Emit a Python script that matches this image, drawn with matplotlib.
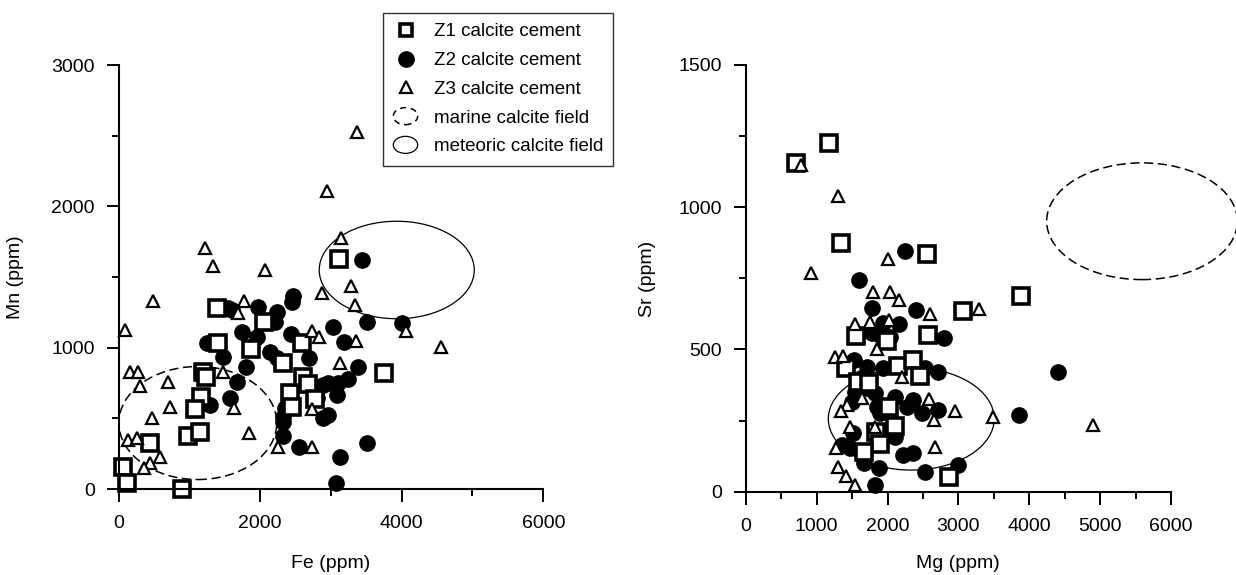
import matplotlib.pyplot as plt
from matplotlib.patches import Ellipse
from matplotlib.lines import Line2D
from matplotlib.legend_handler import HandlerPatch

plt.rcParams['font.family'] = ['Liberation Sans', 'DejaVu Sans']

# ---- Fe vs Mn (ppm) ----
z1_fe = [3115, 1387, 2060, 1401, 1871, 2328, 2596, 1200, 1230, 1165, 1080,
         2422, 2446, 2600, 2680, 2780, 3755, 986, 1151, 445, 68, 124, 890]
z1_mn = [1630, 1283, 1182, 1031, 991, 895, 1031, 830, 790, 653, 566,
         677, 578, 795, 740, 640, 821, 375, 406, 328, 158, 40, 0]

z2_fe = [3435, 2469, 2446, 1975, 1540, 1600, 2234, 2210, 3034, 3505, 4002,
         1740, 1952, 2440, 3180, 1250, 1290, 1471, 2140, 2234, 2690, 1796,
         1669, 1575, 1292, 3387, 3246, 3105, 2963, 2893, 3081, 2799, 2963,
         2893, 2352, 2328, 2328, 2328, 2549, 3505, 3129, 3068]
z2_mn = [1621, 1366, 1326, 1290, 1280, 1265, 1252, 1181, 1149, 1181, 1172,
         1113, 1075, 1100, 1037, 1030, 1030, 936, 972, 925, 930, 861,
         759, 642, 594, 861, 776, 748, 748, 736, 665, 642, 524,
         500, 571, 512, 476, 375, 300, 323, 224, 40]

z3_fe = [3364, 2950, 3138, 1222, 1339, 2069, 3284, 2870, 492, 1773, 3340,
         1683, 92, 2730, 2832, 3350, 4056, 4553, 3134, 162, 271, 304, 694,
         1480, 727, 478, 1636, 1843, 139, 257, 586, 445, 360, 2248, 2738, 2738]
z3_mn = [2529, 2111, 1779, 1708, 1578, 1550, 1437, 1389, 1327, 1327, 1302,
         1248, 1125, 1120, 1078, 1050, 1120, 1003, 892, 830, 830, 729, 759,
         830, 578, 504, 571, 394, 347, 359, 229, 186, 151, 300, 300, 566]

# fields: centre x, centre y, width, height
marine_femn = [1120, 467, 2230, 800]
meteoric_femn = [3930, 1550, 2190, 690]

# ---- Mg vs Sr (ppm) ----
z1_mg = [1175, 709, 1344, 2553, 3069, 3886, 1560, 1990, 2565, 1410, 2155,
         2358, 2455, 1583, 1740, 2015, 2100, 1840, 1890, 1670, 2867]
z1_sr = [1226, 1153, 875, 835, 636, 687, 548, 530, 550, 435, 440,
         463, 407, 386, 381, 298, 230, 208, 167, 141, 52]

z2_mg = [2247, 1597, 1785, 2399, 2166, 1941, 2792, 4406, 3855, 1779, 1890,
         2040, 1525, 1710, 1936, 2530, 2717, 1542, 1707, 1824, 1847, 1894,
         1495, 1620, 2104, 2364, 2271, 2482, 2716, 1965, 2106, 1518, 1354,
         1471, 2223, 2364, 1668, 1884, 2529, 2999, 1824]
z2_sr = [845, 742, 646, 637, 590, 592, 541, 419, 269, 556, 550,
         542, 463, 439, 433, 435, 420, 351, 363, 346, 299, 275,
         316, 400, 334, 322, 299, 275, 287, 211, 193, 205, 164,
         152, 129, 135, 100, 82, 70, 94, 24]

z3_mg = [775, 1297, 917, 2011, 1795, 2035, 2168, 2605, 3290, 1540, 1760,
         2016, 1850, 1260, 1370, 2211, 2592, 1427, 1340, 2957, 3484, 2662,
         4898, 1472, 1822, 1640, 1271, 2667, 1300, 1409, 1535]
z3_sr = [1148, 1039, 769, 817, 700, 700, 672, 623, 641, 588, 596,
         604, 502, 474, 477, 403, 326, 305, 285, 285, 262, 252,
         234, 228, 228, 330, 155, 157, 86, 54, 25]

marine_mgsr = [5590, 950, 2690, 410]
meteoric_mgsr = [2335, 256, 2340, 360]

W, H = 1236, 575
fig = plt.figure(figsize=(W / 100, H / 100), dpi=100)


def make_axes(x0, xs, y0, ys, xlim, ylim):
    # x0/y0: pixel of data zero, xs/ys: pixels per data unit
    left = x0 + xlim[0] * xs
    right = x0 + xlim[1] * xs
    bottom = y0 - ylim[0] * ys
    top = y0 - ylim[1] * ys
    ax = fig.add_axes([left / W, 1 - bottom / H, (right - left) / W, (bottom - top) / H])
    ax.set_xlim(xlim)
    ax.set_ylim(ylim)
    return ax


def style(ax, xmaj, xmin, ymaj, ymin, xmax, ymax):
    for s in ['top', 'right']:
        ax.spines[s].set_visible(False)
    ax.spines['left'].set_position(('data', 0))
    ax.spines['bottom'].set_position(('data', 0))
    ax.spines['left'].set_bounds(0, ymax)
    ax.spines['bottom'].set_bounds(0, xmax)
    for s in ['left', 'bottom']:
        ax.spines[s].set_linewidth(1.5)
    ax.set_xticks(xmaj)
    ax.set_xticks(xmin, minor=True)
    ax.set_yticks(ymaj)
    ax.set_yticks(ymin, minor=True)
    ax.tick_params(which='major', length=9, width=1.4, labelsize=14, direction='out')
    ax.tick_params(which='minor', length=5, width=1.4, direction='out')
    ax.tick_params(axis='x', which='major', pad=10)
    ax.tick_params(axis='y', which='major', pad=8)
    ax.patch.set_visible(False)


def points(ax, x1, y1, x2, y2, x3, y3):
    ax.plot(x2, y2, 'o', color='black', ms=11, clip_on=False)
    ax.plot(x1, y1, 's', mfc='white', mec='black', ms=11, mew=2.6, clip_on=False)
    ax.plot(x3, y3, '^', mfc='white', mec='black', ms=9, mew=1.6, clip_on=False)


def fields(ax, marine, meteoric):
    ax.add_patch(Ellipse((marine[0], marine[1]), marine[2], marine[3], fill=False,
                         ec='black', lw=1.1, ls=(0, (6, 3)), clip_on=False))
    ax.add_patch(Ellipse((meteoric[0], meteoric[1]), meteoric[2], meteoric[3],
                         fill=False, ec='black', lw=0.9, clip_on=False))


ax1 = make_axes(118.5, 0.0708, 489, 0.1413, (-400, 6400), (-250, 3100))
style(ax1, [0, 2000, 4000, 6000], [1000, 3000, 5000],
      [0, 1000, 2000, 3000], [500, 1500, 2500], 6000, 3000)
fields(ax1, marine_femn, meteoric_femn)
points(ax1, z1_fe, z1_mn, z2_fe, z2_mn, z3_fe, z3_mn)

ax2 = make_axes(745.7, 0.0709, 491.7, 0.2847, (-400, 6400), (-120, 1560))
style(ax2, [0, 1000, 2000, 3000, 4000, 5000, 6000], [500, 1500, 2500, 3500, 4500, 5500],
      [0, 500, 1000, 1500], [250, 750, 1250], 6000, 1500)
fields(ax2, marine_mgsr, meteoric_mgsr)
points(ax2, z1_mg, z1_sr, z2_mg, z2_sr, z3_mg, z3_sr)

fig.text(331 / W, 1 - 563 / H, 'Fe (ppm)', ha='center', va='center', fontsize=14)
fig.text(16 / W, 1 - 277 / H, 'Mn (ppm)', ha='center', va='center', rotation=90, fontsize=14)
fig.text(958 / W, 1 - 563 / H, 'Mg (ppm)', ha='center', va='center', fontsize=14)
fig.text(648 / W, 1 - 279 / H, 'Sr (ppm)', ha='center', va='center', rotation=90, fontsize=14)


def ellipse_handle(legend, orig_handle, xdescent, ydescent, width, height, fontsize):
    return Ellipse((0.5 * width - xdescent, 0.5 * height - ydescent), width, 1.3 * height)


h_z1 = Line2D([], [], ls='none', marker='s', mfc='white', mec='black', ms=9, mew=2.6)
h_z2 = Line2D([], [], ls='none', marker='o', color='black', ms=11)
h_z3 = Line2D([], [], ls='none', marker='^', mfc='white', mec='black', ms=8, mew=1.6)
h_mar = Ellipse((0, 0), 1, 1, fill=False, ec='black', lw=1.1, ls=(0, (4, 3)))
h_met = Ellipse((0, 0), 1, 1, fill=False, ec='black', lw=0.9)

leg = fig.legend([h_z1, h_z2, h_z3, h_mar, h_met],
                 ['Z1 calcite cement', 'Z2 calcite cement', 'Z3 calcite cement',
                  'marine calcite field', 'meteoric calcite field'],
                 loc='upper left', bbox_to_anchor=(383 / W, 1 - 13 / H),
                 fontsize=13.5, frameon=True, fancybox=False, borderaxespad=0,
                 handlelength=1.3, handletextpad=0.85, labelspacing=0.62,
                 borderpad=0.55,
                 handler_map={Ellipse: HandlerPatch(patch_func=ellipse_handle)})
leg.get_frame().set_edgecolor('black')
leg.get_frame().set_linewidth(1.0)

fig.savefig('out.png', dpi=100)
